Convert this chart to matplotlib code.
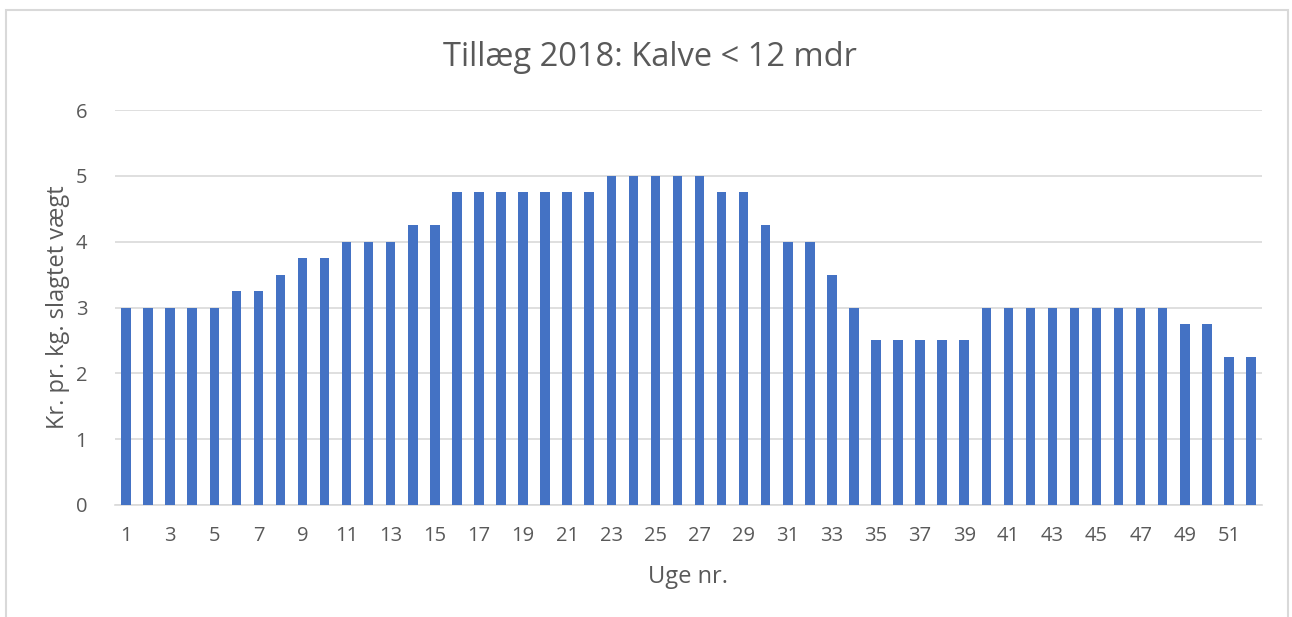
import matplotlib

matplotlib.use("Agg")

import matplotlib.pyplot as plt
from matplotlib.patches import Rectangle

TITLE = "Tillæg 2018: Kalve < 12 mdr"
X_LABEL = "Uge nr."
Y_LABEL = "Kr. pr. kg. slagtet vægt"

weeks = list(range(1, 53))
values = [
    3, 3, 3, 3, 3, 3.25, 3.25, 3.5, 3.75, 3.75,
    4, 4, 4, 4.25, 4.25, 4.75, 4.75, 4.75, 4.75, 4.75,
    4.75, 4.75, 5, 5, 5, 5, 5, 4.75, 4.75, 4.25,
    4, 4, 3.5, 3, 2.5, 2.5, 2.5, 2.5, 2.5, 3,
    3, 3, 3, 3, 3, 3, 3, 3, 2.75, 2.75,
    2.25, 2.25,
]
tick_weeks = list(range(1, 53, 2))
y_ticks = [0, 1, 2, 3, 4, 5, 6]

BAR_COLOR = "#4472C4"
TEXT_COLOR = "#595959"
GRID_COLOR = "#d9d9d9"


def main():
    plt.rcParams["font.family"] = ["Open Sans", "DejaVu Sans"]

    fig = plt.figure(figsize=(12.92, 6.17), dpi=100)
    ax = fig.add_axes([115 / 1292, 1 - 505 / 617, (1262 - 115) / 1292, (505 - 110) / 617])

    # chart frame (bottom edge is outside the picture)
    fig.patches.append(Rectangle((6 / 1292, -0.05), (1288 - 6) / 1292, 1.05 - 10 / 617,
                                 transform=fig.transFigure, fill=False,
                                 edgecolor=GRID_COLOR, linewidth=1.5))

    ax.bar(weeks, values, width=0.43, color=BAR_COLOR, zorder=3)

    ax.set_xlim(0.5, 52.5)
    ax.set_ylim(0, 6)
    ax.set_yticks(y_ticks)
    ax.set_xticks(tick_weeks)
    ax.tick_params(axis="both", length=0, colors=TEXT_COLOR, labelsize=14.5)
    ax.tick_params(axis="y", pad=20)
    ax.tick_params(axis="x", pad=15)
    ax.grid(axis="y", color=GRID_COLOR, linewidth=1.2, zorder=0)

    for side in ["top", "right", "left"]:
        ax.spines[side].set_visible(False)
    ax.spines["bottom"].set_color(GRID_COLOR)
    ax.spines["bottom"].set_linewidth(1.2)

    ax.set_xlabel(X_LABEL, color=TEXT_COLOR, fontsize=17)
    ax.set_ylabel(Y_LABEL, color=TEXT_COLOR, fontsize=17)
    ax.xaxis.set_label_coords(0.5, -(577 - 505) / 395, transform=ax.transAxes)
    ax.xaxis.label.set_va("center")
    ax.yaxis.set_label_coords(-(115 - 58) / 1147, 0.5, transform=ax.transAxes)
    ax.yaxis.label.set_va("center")
    fig.text(650 / 1292, 1 - 57 / 617, TITLE, color=TEXT_COLOR, fontsize=23.5,
             ha="center", va="center")

    fig.savefig("out.png", dpi=100)


if __name__ == "__main__":
    main()
